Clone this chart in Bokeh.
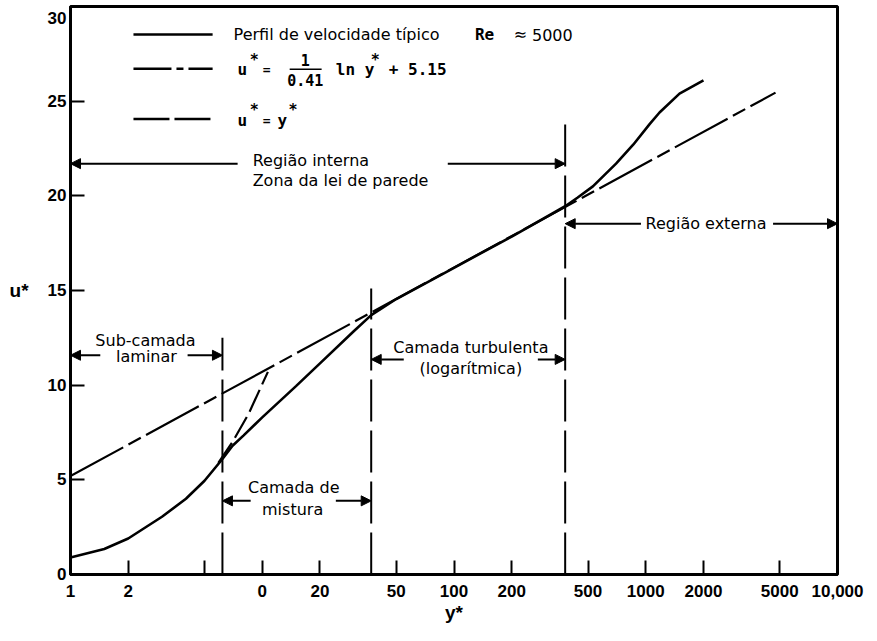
from bokeh.plotting import figure
from bokeh.models import FixedTicker, Arrow, NormalHead, BasicTickFormatter
from bokeh.core.properties import value
from bokeh.embed import file_html
from bokeh.resources import INLINE

# ---------------- data ----------------
profile_y = [1, 1.5, 2, 3, 4, 5, 6.2, 7, 8, 10, 15, 20, 30, 37, 50, 100, 200, 380,
             440, 530, 700, 860, 1050, 1180, 1500, 2000]
profile_u = [0.9, 1.35, 1.9, 3.05, 4.0, 4.95, 6.1, 6.8, 7.35, 8.3, 9.95, 11.15, 12.85, 13.7,
             14.55, 16.2, 17.85, 19.45, 19.9, 20.5, 21.7, 22.7, 23.8, 24.4, 25.4, 26.1]

loglaw_y = [1, 4750]
loglaw_u = [5.2, 25.45]

linear_y = [5.9, 7.0, 8.5, 10.7]
linear_u = [5.9, 7.0, 8.5, 10.7]

boundary_y = [6.2, 37, 380]
boundary_top = [12.5, 15.1, 23.95]

xtick_values = [1, 2, 5, 10, 20, 50, 100, 200, 500, 1000, 2000, 5000, 10000]
xtick_labels = ["1", "2", "", "0", "20", "50", "100", "200", "500", "1000", "2000", "5000", "10,000"]
ytick_values = [0, 5, 10, 15, 20, 25, 30]
ytick_labels = ["0", "5", "10", "15", "20", "25", "30"]

SANS = "DejaVu Sans"
MONO = "DejaVu Sans Mono"
TICKF = "Liberation Sans"

p = figure(width=870, height=636, x_axis_type="log", x_range=(1, 10000), y_range=(0, 30),
           output_backend="svg", toolbar_location=None,
           min_border_left=70, min_border_right=33, min_border_top=6, min_border_bottom=62)
p.xgrid.visible = False
p.ygrid.visible = False
p.outline_line_color = "black"
p.outline_line_width = 3
p.background_fill_color = "white"
p.border_fill_color = "white"

p.xaxis.ticker = FixedTicker(ticks=xtick_values)
p.xaxis.formatter = BasicTickFormatter(use_scientific=False)
p.xaxis.major_label_overrides = {v: l for v, l in zip(xtick_values, xtick_labels)}
p.yaxis.ticker = FixedTicker(ticks=ytick_values)
# top label sits a little below its tick (as in the original), keeping it inside the page
p.yaxis.major_label_overrides = {v: (l if v != ytick_values[-1] else "\n" + l)
                                 for v, l in zip(ytick_values, ytick_labels)}
p.yaxis.major_label_text_line_height = 0.45

for ax in (p.xaxis[0], p.yaxis[0]):
    ax.axis_line_width = 3
    ax.axis_line_color = "black"
    ax.major_tick_in = 14
    ax.major_tick_out = 0
    ax.major_tick_line_width = 2
    ax.major_tick_line_color = "black"
    ax.minor_tick_in = 0
    ax.minor_tick_out = 0
    ax.major_label_text_font = TICKF
    ax.major_label_text_font_size = "17px"
    ax.major_label_text_font_style = "bold"
    ax.major_label_text_color = "black"
    ax.axis_label_text_font = TICKF
    ax.axis_label_text_font_size = "19px"
    ax.axis_label_text_font_style = "bold"
    ax.axis_label_text_color = "black"

p.xaxis.major_label_standoff = 10
p.yaxis.major_label_standoff = 4
p.xaxis.axis_label = "y*"
p.xaxis.axis_label_standoff = 2
p.yaxis.axis_label = "u*"
p.yaxis.axis_label_orientation = "horizontal"
p.yaxis.axis_label_standoff = 16

# ---------------- curves ----------------
p.line(loglaw_y, loglaw_u, line_color="black", line_width=2.2, line_dash="60 6 14 6")
p.line(linear_y, linear_u, line_color="black", line_width=2.2, line_dash="24 6")
p.line(profile_y, profile_u, line_color="black", line_width=2.6)
p.segment(x0=boundary_y, y0=[0] * 3, x1=boundary_y, y1=boundary_top,
          line_color="black", line_width=2, line_dash="42 9")


def txt(x, y, s, size="16px", font=SANS, align="left", style="normal"):
    p.text(x=[x], y=[y], text=[s], text_font=value(font), text_font_size=size,
           text_align=align, text_baseline="middle", text_font_style=style,
           text_color="black")


def arrow(x0, y0, x1, y1):
    p.add_layout(Arrow(end=NormalHead(size=10, fill_color="black", line_color="black", line_width=1),
                       x_start=x0, y_start=y0, x_end=x1, y_end=y1,
                       line_color="black", line_width=2))


# ---------------- legend (drawn) ----------------
p.line([2.13, 5.51], [28.52, 28.52], line_color="black", line_width=2.6)
txt(7.09, 28.52, "Perfil de velocidade típico")
txt(128.5, 28.52, "Re", font=MONO, style="bold")
txt(205, 28.52, "≈")
txt(255, 28.52, "5000")

p.line([2.13, 5.51], [26.71, 26.71], line_color="black", line_width=2.6, line_dash="38 5 7 5")
txt(7.44, 26.66, "u", font=MONO, style="bold")
txt(8.6, 27.2, "*", font=MONO, style="bold", size="15px")
txt(10.05, 26.66, "=", font=MONO, style="bold", size="13px")
txt(16.75, 27.2, "1", font=MONO, style="bold", size="15px", align="center")
p.segment(x0=[13.9], y0=[26.68], x1=[20.4], y1=[26.68], line_color="black", line_width=1.5)
txt(16.75, 26.12, "0.41", font=MONO, style="bold", size="15px", align="center")
txt(24.2, 26.66, "ln y", font=MONO, style="bold")
txt(36.8, 27.2, "*", font=MONO, style="bold", size="15px")
txt(45.7, 26.66, "+ 5.15", font=MONO, style="bold")

p.line([2.13, 5.51], [24.06, 24.06], line_color="black", line_width=2.6, line_dash="36 5")
txt(7.44, 24.0, "u", font=MONO, style="bold")
txt(8.6, 24.55, "*", font=MONO, style="bold", size="15px")
txt(10.05, 24.0, "=", font=MONO, style="bold", size="13px")
txt(12.0, 24.0, "y", font=MONO, style="bold")
txt(13.7, 24.55, "*", font=MONO, style="bold", size="15px")

# ---------------- region annotations ----------------
# inner region
arrow(7.44, 21.7, 1, 21.7)
arrow(92.8, 21.7, 380, 21.7)
txt(8.91, 21.88, "Região interna")
txt(8.91, 20.82, "Zona da lei de parede")

# viscous sublayer
arrow(1.43, 11.58, 1, 11.58)
arrow(4.08, 11.58, 6.2, 11.58)
txt(2.46, 12.37, "Sub-camada", align="center")
txt(2.49, 11.52, "laminar", align="center")

# buffer layer
arrow(8.7, 3.89, 6.2, 3.89)
arrow(24.2, 3.89, 37, 3.89)
txt(14.6, 4.62, "Camada de", align="center")
txt(14.4, 3.45, "mistura", align="center")

# log layer
arrow(54.7, 11.36, 37, 11.36)
arrow(273.7, 11.36, 380, 11.36)
txt(122.4, 12.0, "Camada turbulenta", align="center")
txt(122.4, 10.89, "(logarítmica)", align="center")

# outer region
arrow(944, 18.53, 380, 18.53)
arrow(4613, 18.53, 10000, 18.53)
txt(2062, 18.53, "Região externa", align="center")

open("out.html", "w").write(file_html(p, INLINE))
